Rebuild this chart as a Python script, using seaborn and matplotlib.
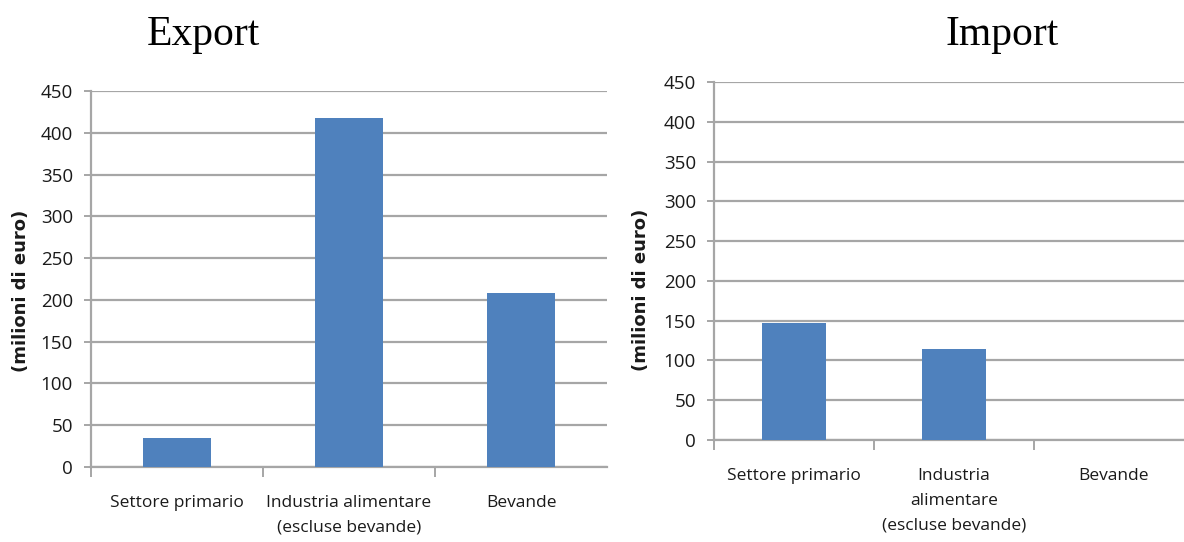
import matplotlib
matplotlib.use("Agg")
import matplotlib.pyplot as plt
import seaborn as sns
import pandas as pd
from matplotlib.ticker import FixedLocator

# Trade by sector, millions of euro
export_labels = ["Settore primario", "Industria alimentare\n(escluse bevande)", "Bevande"]
import_labels = ["Settore primario", "Industria\nalimentare\n(escluse bevande)", "Bevande"]
export_values = [35, 418, 208]
import_values = [147, 114, 0]
y_ticks = [0, 50, 100, 150, 200, 250, 300, 350, 400, 450]

sns.set_theme(style="white")
plt.rcParams["font.family"] = ["Open Sans", "DejaVu Sans"]

BAR = "#4f81bd"
GRID = "#a6a6a6"
TEXT = "#1a1a1a"

fig = plt.figure(figsize=(11.84, 5.42), dpi=100)
ax_exp = fig.add_axes([0.0769, 0.1384, 0.4358, 0.6937])
ax_imp = fig.add_axes([0.6030, 0.1882, 0.4054, 0.6605])


def draw(ax, labels, values, label_xy):
    df = pd.DataFrame({"settore": labels, "valore": values})
    sns.barplot(data=df, x="settore", y="valore", order=labels, color=BAR,
                width=0.4, saturation=1, linewidth=0, ax=ax, zorder=3)
    ax.set_ylim(0, 450)
    ax.set_xlim(-0.5, 2.5)
    ax.set_yticks(y_ticks)
    ax.set_yticklabels([str(v) for v in y_ticks])
    ax.yaxis.grid(True, color=GRID, linewidth=1.6, zorder=0)
    ax.set_axisbelow(True)
    for s in ["top", "right"]:
        ax.spines[s].set_visible(False)
    for s in ["left", "bottom"]:
        ax.spines[s].set_color(GRID)
        ax.spines[s].set_linewidth(1.6)
    ax.tick_params(axis="y", which="major", length=5, width=1.4, color=GRID,
                   labelsize=13.5, labelcolor=TEXT, pad=8, left=True)
    ax.tick_params(axis="x", which="major", length=0, labelsize=12.5,
                   labelcolor=TEXT, pad=20)
    for t in ax.get_xticklabels():
        t.set_linespacing(1.75)
    ax.xaxis.set_minor_locator(FixedLocator([-0.5, 0.5, 1.5]))
    ax.tick_params(axis="x", which="minor", length=7, width=1.4, color=GRID,
                   bottom=True, direction="out")
    ax.set_xlabel("")
    ax.set_ylabel("(milioni di euro)", fontsize=13, fontweight="bold",
                  family=["DejaVu Sans"], color=TEXT)
    ax.yaxis.set_label_coords(*label_xy)
    ax.yaxis.label.set_verticalalignment("center")


draw(ax_exp, export_labels, export_values, (-0.135, 0.468))
draw(ax_imp, import_labels, import_values, (-0.152, 0.42))

serif = ["Liberation Serif", "DejaVu Serif"]
fig.text(0.172, 0.935, "Export", fontsize=30, family=serif, color="black",
         ha="center", va="center")
fig.text(0.846, 0.935, "Import", fontsize=30, family=serif, color="black",
         ha="center", va="center")

fig.savefig("out.png", dpi=100, facecolor="white")
